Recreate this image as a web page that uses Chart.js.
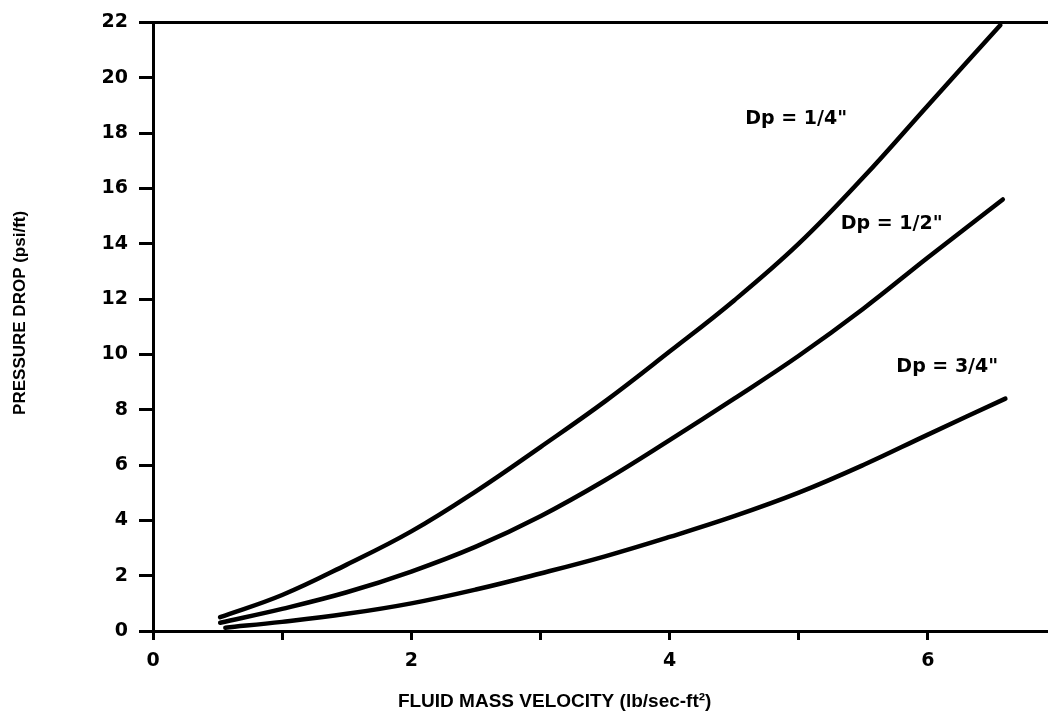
<!DOCTYPE html>
<html lang="en">
<head>
<meta charset="utf-8">
<title>Pressure drop vs fluid mass velocity</title>
<script src="https://cdn.jsdelivr.net/npm/chart.js@4.4.1/dist/chart.umd.min.js"></script>
<style>
  html, body { margin: 0; padding: 0; background: #fff; }
  .chart-box { position: relative; width: 1048px; height: 717px; }
</style>
</head>
<body>
<div class="chart-box"><canvas id="dpChart"></canvas></div>
<script>
/* ================= Data ================= */
// Dp = 1/4"
const velocityQuarter = [0.52, 1.0, 1.5, 2.0, 2.5, 3.0, 3.5, 4.0, 4.5, 5.0, 5.5, 6.0, 6.56];
const dropQuarter     = [0.5, 1.3, 2.4, 3.6, 5.05, 6.65, 8.3, 10.1, 11.95, 14.0, 16.4, 19.0, 21.9];

// Dp = 1/2"
const velocityHalf = [0.52, 1.0, 1.5, 2.0, 2.5, 3.0, 3.5, 4.0, 4.5, 5.0, 5.5, 6.0, 6.58];
const dropHalf     = [0.3, 0.8, 1.4, 2.15, 3.05, 4.15, 5.45, 6.9, 8.4, 9.95, 11.65, 13.5, 15.6];

// Dp = 3/4"
const velocityThreeQuarter = [0.56, 1.0, 1.5, 2.0, 2.5, 3.0, 3.5, 4.0, 4.5, 5.0, 5.5, 6.0, 6.6];
const dropThreeQuarter     = [0.12, 0.33, 0.62, 1.0, 1.5, 2.08, 2.7, 3.4, 4.15, 5.0, 6.0, 7.1, 8.4];

// Curve labels and where they sit (data units)
const curveLabels = ['Dp = 1/4"', 'Dp = 1/2"', 'Dp = 3/4"'];
const curveLabelX = [4.98, 5.72, 6.15];
const curveLabelY = [18.5, 14.7, 9.55];

const xTitle = 'FLUID MASS VELOCITY (lb/sec-ft\u00B2)';
const yTitle = 'PRESSURE DROP (psi/ft)';

const X_MIN = 0, X_MAX = 6.93, X_STEP = 1;
const Y_MIN = 0, Y_MAX = 22, Y_STEP = 2;

const TICK_FONT = { family: '"DejaVu Sans", sans-serif', size: 19, weight: 'bold' };

document.addEventListener('DOMContentLoaded', () => {
  Chart.defaults.color = '#000';
  initPressureChart();
});

function toPoints(xs, ys) {
  return xs.map((x, i) => ({ x: x, y: ys[i] }));
}

function curve(label, xs, ys) {
  return {
    label: label,
    data: toPoints(xs, ys),
    borderColor: '#000',
    borderWidth: 4.5,
    borderCapStyle: 'round',
    pointRadius: 0,
    fill: false,
    showLine: true,
    tension: 0.4
  };
}

/* ================= Plugin: curve labels + axis titles ================= */
const annotationPlugin = {
  id: 'dpAnnotations',
  afterDraw(chart) {
    const ctx = chart.ctx;
    const xs = chart.scales.x;
    const ys = chart.scales.y;
    const area = chart.chartArea;

    ctx.save();
    ctx.fillStyle = '#000';
    ctx.textAlign = 'center';
    ctx.textBaseline = 'middle';

    ctx.font = 'bold 19px "DejaVu Sans", sans-serif';
    curveLabels.forEach((txt, i) => {
      ctx.fillText(txt, xs.getPixelForValue(curveLabelX[i]), ys.getPixelForValue(curveLabelY[i]));
    });

    // x title sits a little left of the plot centre in the original
    ctx.font = 'bold 19px "Liberation Sans", Arial, sans-serif';
    ctx.fillText(xTitle, xs.getPixelForValue(3.11), area.bottom + 71);

    ctx.translate(20, ys.getPixelForValue(11.5));
    ctx.rotate(-Math.PI / 2);
    ctx.font = 'bold 17px "Liberation Sans", Arial, sans-serif';
    ctx.fillText(yTitle, 0, 0);
    ctx.restore();
  }
};

/* ================= Chart ================= */
function initPressureChart() {
  const el = document.getElementById('dpChart');
  if (!el) return;

  new Chart(el, {
    type: 'scatter',
    data: {
      datasets: [
        curve('Dp = 1/4"', velocityQuarter, dropQuarter),
        curve('Dp = 1/2"', velocityHalf, dropHalf),
        curve('Dp = 3/4"', velocityThreeQuarter, dropThreeQuarter)
      ]
    },
    options: {
      responsive: true,
      maintainAspectRatio: false,
      animation: false,
      layout: { padding: 0 },
      plugins: { legend: { display: false }, tooltip: { enabled: false } },
      scales: {
        x: {
          type: 'linear',
          min: X_MIN,
          max: X_MAX,
          border: { display: true, color: '#000', width: 3 },
          grid: { drawOnChartArea: false, drawTicks: true, tickLength: 9, tickWidth: 3, color: '#000' },
          ticks: {
            stepSize: X_STEP,
            includeBounds: false,
            autoSkip: false,
            maxRotation: 0,
            padding: 10,
            font: TICK_FONT,
            callback: v => (v % 2 === 0 ? v : '')
          },
          afterFit: s => { s.height = 86; }
        },
        xTop: {
          type: 'linear',
          position: 'top',
          min: X_MIN,
          max: X_MAX,
          border: { display: true, color: '#000', width: 3 },
          grid: { display: false },
          ticks: { display: false },
          afterFit: s => { s.height = 17; }
        },
        y: {
          min: Y_MIN,
          max: Y_MAX,
          border: { display: true, color: '#000', width: 3 },
          grid: { drawOnChartArea: false, drawTicks: true, tickLength: 14, tickWidth: 3, color: '#000' },
          ticks: { stepSize: Y_STEP, padding: 11, font: TICK_FONT },
          afterFit: s => { s.width = 153; }
        }
      }
    },
    plugins: [annotationPlugin]
  });
}
</script>
</body>
</html>
